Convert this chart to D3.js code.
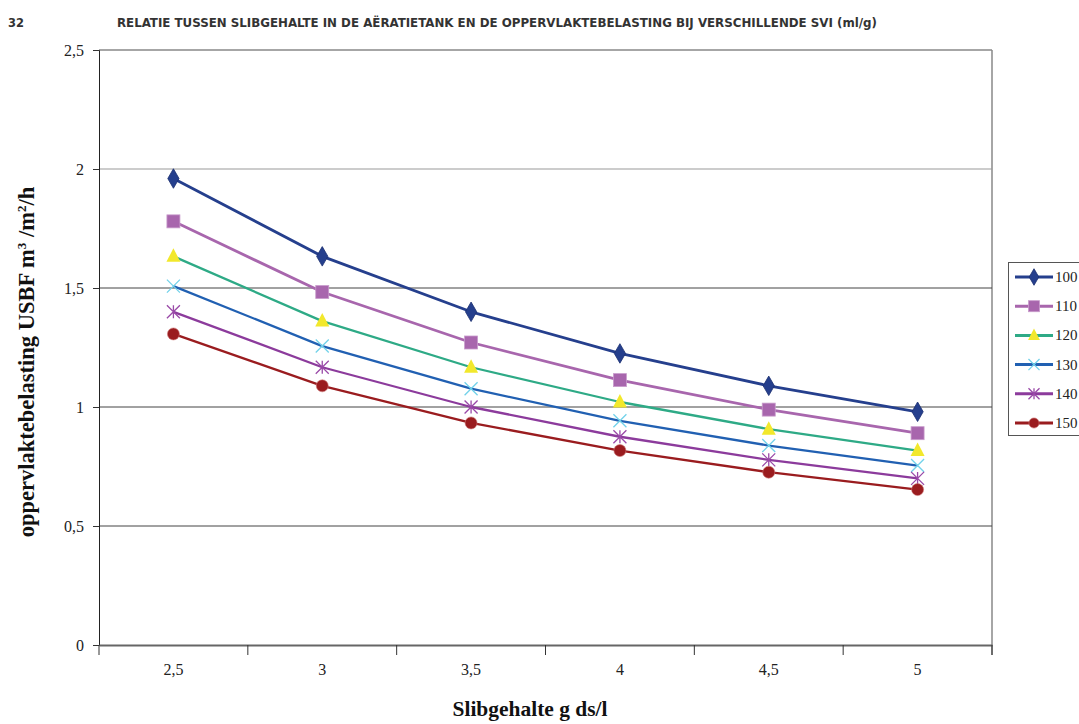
<!DOCTYPE html>
<html><head><meta charset="utf-8">
<script src="https://cdn.jsdelivr.net/npm/d3@7"></script>
<style>body{margin:0;background:#fff}svg{display:block}
.serif{font-family:"Liberation Serif","Times New Roman",serif}
</style>
</head><body>
<svg id="c" width="1079" height="724"></svg>
<script>
const categories = ["2,5","3","3,5","4","4,5","5"];
const seriesNames = ["100","110","120","130","140","150"];
const s100 = [1.96, 1.633, 1.40, 1.225, 1.089, 0.98];
const s110 = [1.78, 1.483, 1.271, 1.113, 0.989, 0.89];
const s120 = [1.633, 1.361, 1.167, 1.021, 0.907, 0.817];
const s130 = [1.508, 1.256, 1.077, 0.942, 0.838, 0.754];
const s140 = [1.40, 1.167, 1.00, 0.875, 0.778, 0.70];
const s150 = [1.307, 1.089, 0.933, 0.817, 0.726, 0.653];
const yTicks = [0, 0.5, 1, 1.5, 2, 2.5];
const yTickLabels = ["0","0,5","1","1,5","2","2,5"];

const series = [
  {name: seriesNames[0], values: s100, line: "#253f8d", marker: "#253f8d", shape: "diamond", w: 2.8},
  {name: seriesNames[1], values: s110, line: "#a866ad", marker: "#a866ad", shape: "square", w: 2.8},
  {name: seriesNames[2], values: s120, line: "#2eaa86", marker: "#f2e82c", shape: "triangle", w: 2.3},
  {name: seriesNames[3], values: s130, line: "#2160b2", marker: "#72d2ea", shape: "x", w: 2.3},
  {name: seriesNames[4], values: s140, line: "#8c3b9c", marker: "#9a4aa8", shape: "star", w: 2.3},
  {name: seriesNames[5], values: s150, line: "#9a1c1f", marker: "#9a1c1f", shape: "circle", w: 2.3}
];

const svg = d3.select("#c");
const L = 99, R = 992, T = 50, B = 645;
const x = d3.scaleBand().domain(categories).range([L, R]);
const y = d3.scaleLinear().domain([0, 2.5]).range([B, T]);

// title
svg.append("text").attr("x", 8).attr("y", 27)
  .style("font-family", "'DejaVu Sans Condensed','DejaVu Sans',sans-serif").style("font-weight", "bold")
  .style("font-size", "12.5px").attr("fill", "#333").attr("textLength", 16).attr("lengthAdjust", "spacingAndGlyphs").text("32");
svg.append("text").attr("x", 117).attr("y", 27)
  .style("font-family", "'DejaVu Sans Condensed','DejaVu Sans',sans-serif").style("font-weight", "bold")
  .style("font-size", "12.5px").attr("fill", "#333")
  .attr("textLength", 760).attr("lengthAdjust", "spacingAndGlyphs")
  .text("RELATIE TUSSEN SLIBGEHALTE IN DE AËRATIETANK EN DE OPPERVLAKTEBELASTING BIJ VERSCHILLENDE SVI (ml/g)");

// plot border top/right
svg.append("line").attr("x1", L).attr("x2", R).attr("y1", T).attr("y2", T).attr("stroke", "#888").attr("stroke-width", 1.5);
svg.append("line").attr("x1", R).attr("x2", R).attr("y1", T).attr("y2", B + 10).attr("stroke", "#888").attr("stroke-width", 1.5);

// gridlines
svg.append("g").selectAll("line").data(yTicks.filter(v => v > 0 && v < 2.5)).join("line")
  .attr("x1", L).attr("x2", R).attr("y1", d => y(d)).attr("y2", d => y(d))
  .attr("stroke", d => d === 2 ? "#999" : "#444").attr("stroke-width", 1);

// y axis
const yAxis = d3.axisLeft(y).tickValues(yTicks).tickFormat((d, i) => yTickLabels[i]).tickSize(6).tickPadding(9);
const gy = svg.append("g").attr("transform", `translate(${L},0)`).call(yAxis);
gy.attr("font-family", null).attr("font-size", null);
gy.select(".domain").attr("stroke", "#222");
gy.selectAll(".tick line").attr("stroke", "#333");
gy.selectAll(".tick text").attr("class", "serif").style("font-size", "16px").attr("fill", "#222");

// x axis
const xAxis = d3.axisBottom(x).tickSize(0).tickPadding(19);
const gx = svg.append("g").attr("transform", `translate(0,${B})`).call(xAxis);
gx.attr("font-family", null).attr("font-size", null);
gx.select(".domain").attr("stroke", "#666").attr("stroke-width", 2);
gx.selectAll(".tick text").attr("class", "serif").style("font-size", "16px").attr("fill", "#222");
const bounds = categories.map(c => x(c)).concat([R]);
svg.append("g").selectAll("line").data(bounds).join("line")
  .attr("x1", d => d).attr("x2", d => d).attr("y1", B).attr("y2", B + 10).attr("stroke", "#333");

// axis titles
svg.append("text").attr("class", "serif").attr("x", 530).attr("y", 716).attr("text-anchor", "middle")
  .style("font-weight", "bold").style("font-size", "21px")
  .attr("textLength", 155).attr("lengthAdjust", "spacingAndGlyphs")
  .attr("fill", "#111").text("Slibgehalte g ds/l");
const yt = svg.append("text").attr("class", "serif").attr("transform", `translate(34,362) rotate(-90)`).attr("text-anchor", "middle")
  .style("font-weight", "bold").style("font-size", "22.5px")
  .attr("fill", "#111");
yt.append("tspan").text("oppervlaktebelasting USBF m");
yt.append("tspan").attr("dy", -8).style("font-size", "13px").text("3");
yt.append("tspan").attr("dy", 8).text(" /m");
yt.append("tspan").attr("dy", -8).style("font-size", "13px").text("2");
yt.append("tspan").attr("dy", 8).text("/h");

function drawMarker(g, s, cx, cy, scale) {
  const k = scale || 1;
  if (s.shape === "diamond") {
    g.append("path").attr("d", d3.symbol(d3.symbolDiamond, 110 * k * k)()).attr("transform", `translate(${cx},${cy})`).attr("fill", s.marker).attr("stroke", "#1a2f70").attr("stroke-width", 0.8);
  } else if (s.shape === "square") {
    g.append("rect").attr("x", cx - 6.5 * k).attr("y", cy - 6.5 * k).attr("width", 13 * k).attr("height", 13 * k).attr("fill", s.marker).attr("stroke", "#c99ccc").attr("stroke-width", 0.8);
  } else if (s.shape === "triangle") {
    g.append("path").attr("d", `M${cx},${cy - 8 * k}L${cx + 7 * k},${cy + 5.5 * k}L${cx - 7 * k},${cy + 5.5 * k}Z`).attr("fill", s.marker);
  } else if (s.shape === "x") {
    const r = 6.5 * k;
    g.append("path").attr("d", `M${cx - r},${cy - r}L${cx + r},${cy + r}M${cx - r},${cy + r}L${cx + r},${cy - r}`).attr("stroke", s.marker).attr("stroke-width", 1.3).attr("fill", "none");
  } else if (s.shape === "star") {
    const r = 6.5 * k;
    g.append("path").attr("d", `M${cx - r},${cy - r}L${cx + r},${cy + r}M${cx - r},${cy + r}L${cx + r},${cy - r}M${cx},${cy - r}L${cx},${cy + r}`).attr("stroke", s.marker).attr("stroke-width", 1.3).attr("fill", "none");
  } else if (s.shape === "circle") {
    g.append("circle").attr("cx", cx).attr("cy", cy).attr("r", 6 * k).attr("fill", s.marker).attr("stroke", "#c77").attr("stroke-width", 0.6);
  }
}

const line = d3.line().x((d, i) => x(categories[i]) + x.bandwidth() / 2).y(d => y(d));
const gl = svg.append("g");
series.forEach(s => {
  gl.append("path").datum(s.values).attr("d", line).attr("fill", "none").attr("stroke", s.line).attr("stroke-width", s.w).attr("stroke-linejoin", "round");
});
const gm = svg.append("g");
series.forEach(s => {
  s.values.forEach((v, i) => drawMarker(gm, s, x(categories[i]) + x.bandwidth() / 2, y(v)));
});

// legend
const lg = svg.append("g");
lg.append("rect").attr("x", 1008.5).attr("y", 262.5).attr("width", 80).attr("height", 173).attr("fill", "#fff").attr("stroke", "#555");
series.forEach((s, i) => {
  const ly = 277 + i * 29.2;
  lg.append("line").attr("x1", 1015).attr("x2", 1053).attr("y1", ly).attr("y2", ly).attr("stroke", s.line).attr("stroke-width", 3);
  drawMarker(lg, s, 1034, ly, 0.85);
  lg.append("text").attr("class", "serif").attr("x", 1055).attr("y", ly + 5).style("font-size", "15px").attr("fill", "#222").text(s.name);
});
</script>
</body></html>
